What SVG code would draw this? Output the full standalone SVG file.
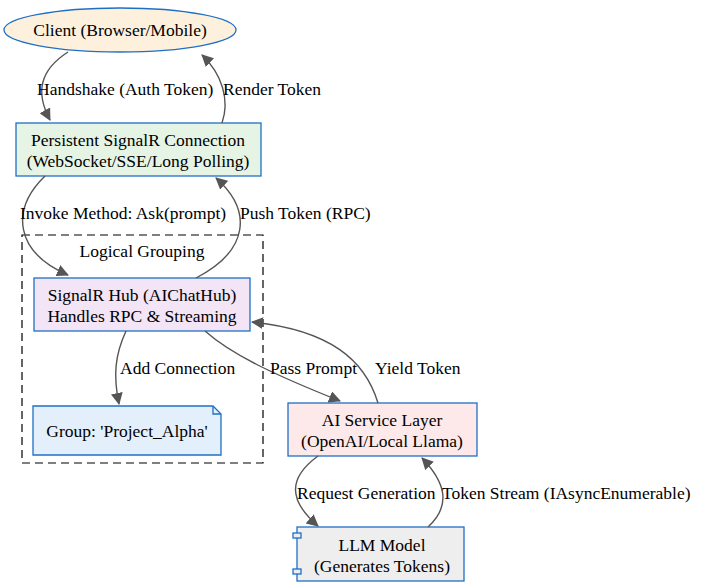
<svg xmlns="http://www.w3.org/2000/svg" width="708" height="587" viewBox="0 0 708 587" font-family="'Liberation Serif', 'Times New Roman', 'DejaVu Serif', serif" font-size="18">
<style>
text{font-family:'Liberation Serif','Times New Roman','DejaVu Serif',serif;font-size:17.5px;fill:#000}
.n{stroke:#1f6fc6;stroke-width:1.3}
.e{fill:none;stroke:#555;stroke-width:1.4}
</style>
<defs><marker id="a" markerWidth="12" markerHeight="12" refX="11" refY="6" orient="auto" markerUnits="userSpaceOnUse"><path d="M0,0L12,6L0,12z" fill="#555"/></marker></defs>
<rect width="708" height="587" fill="#fff"/>
<g id="cluster"><rect x="22" y="235" width="241" height="228" fill="none" stroke="#000" stroke-width="1.2" stroke-dasharray="8,5"/><text x="142" y="257" text-anchor="middle">Logical Grouping</text></g>
<g id="client"><ellipse class="n" cx="120" cy="30" rx="116" ry="22" fill="#fdf1de"/><text x="120" y="36" text-anchor="middle">Client (Browser/Mobile)</text></g>
<g id="conn"><rect class="n" x="16" y="123" width="245" height="53" fill="#e6f4e6"/><text x="138" y="146" text-anchor="middle">Persistent SignalR Connection</text><text x="138" y="167" text-anchor="middle">(WebSocket/SSE/Long Polling)</text></g>
<g id="hub"><rect class="n" x="34" y="278" width="216" height="53" fill="#f3e4f6"/><text x="142" y="301" text-anchor="middle">SignalR Hub (AIChatHub)</text><text x="142" y="322" text-anchor="middle">Handles RPC &amp; Streaming</text></g>
<g id="group"><path class="n" d="M33,406H213L221,414V455H33Z" fill="#e3f0fb"/><path class="n" d="M213,406V414H221" fill="none"/><text x="127" y="437" text-anchor="middle">Group: 'Project_Alpha'</text></g>
<g id="ai"><rect class="n" x="288" y="403" width="189" height="53" fill="#fde9ea"/><text x="382" y="426" text-anchor="middle">AI Service Layer</text><text x="382" y="447" text-anchor="middle">(OpenAI/Local Llama)</text></g>
<g id="llm"><rect class="n" x="297" y="527" width="167" height="54" fill="#eeeeee"/><rect class="n" x="293" y="533" width="8" height="5" fill="#eeeeee"/><rect class="n" x="293" y="569" width="8" height="5" fill="#eeeeee"/><text x="382" y="551" text-anchor="middle">LLM Model</text><text x="382" y="572" text-anchor="middle">(Generates Tokens)</text></g>
<g id="edges">
<path class="e" marker-end="url(#a)" d="M68,52C40,70 35,92 50,120"/><text x="37" y="95">Handshake (Auth Token)</text>
<path class="e" marker-end="url(#a)" d="M222,123C230,100 222,74 202,55"/><text x="223" y="95">Render Token</text>
<path class="e" marker-end="url(#a)" d="M45,176C10,210 15,252 68,275"/><text x="20" y="219">Invoke Method: Ask(prompt)</text>
<path class="e" marker-end="url(#a)" d="M196,278C250,250 252,210 216,178"/><text x="240" y="219">Push Token (RPC)</text>
<path class="e" marker-end="url(#a)" d="M126,331C115,355 113,375 119,404"/><text x="120" y="374">Add Connection</text>
<path class="e" marker-end="url(#a)" d="M205,331C232,355 275,375 340,401"/><text x="270" y="374">Pass Prompt</text>
<path class="e" marker-end="url(#a)" d="M378,403C365,360 330,330 252,322"/><text x="375" y="374">Yield Token</text>
<path class="e" marker-end="url(#a)" d="M318,456C288,478 288,500 318,526"/><text x="297" y="499">Request Generation</text>
<path class="e" marker-end="url(#a)" d="M428,527C452,505 445,482 422,458"/><text x="442" y="499">Token Stream (IAsyncEnumerable)</text>
</g>
</svg>
